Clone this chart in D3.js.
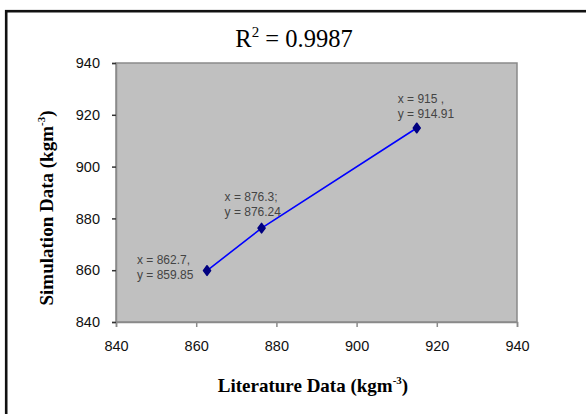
<!DOCTYPE html>
<html><head><meta charset="utf-8">
<script src="https://cdn.jsdelivr.net/npm/d3@7"></script>
<style>body{margin:0;background:#fff}svg{display:block}</style>
</head><body>
<svg id="c" width="586" height="414"></svg>
<script>
const literature = [862.7, 876.3, 915];
const simulation = [859.85, 876.24, 914.91];
const pointLabels = [["x = 862.7,", "y = 859.85"], ["x = 876.3;", "y = 876.24"], ["x = 915 ,", "y = 914.91"]];
const xTicks = [840, 860, 880, 900, 920, 940];
const yTicks = [840, 860, 880, 900, 920, 940];
const title = "0.9987";

// label placement offsets (layout only)
const labelOffsets = [[-70, -10], [-37, -30], [-19, -28]];

const svg = d3.select("#c");
const L = 116, R = 517, T = 63, B = 322;
const x = d3.scaleLinear().domain([840, 940]).range([L, R]);
const y = d3.scaleLinear().domain([840, 940]).range([B, T]);

// outer frame
svg.append("rect").attr("x", 6.2).attr("y", 11.2).attr("width", 620).attr("height", 520)
  .attr("fill", "none").attr("stroke", "#111").attr("stroke-width", 2.6);

// plot area
svg.append("rect").attr("x", L).attr("y", T).attr("width", R - L).attr("height", B - T)
  .attr("fill", "#c0c0c0").attr("stroke", "#8a8a8a").attr("stroke-width", 1.5);

// axes
const xa = svg.append("g").attr("transform", `translate(0,${B})`)
  .call(d3.axisBottom(x).tickValues(xTicks).tickSize(5).tickPadding(14).tickFormat(d3.format("d")));
const ya = svg.append("g").attr("transform", `translate(${L},0)`)
  .call(d3.axisLeft(y).tickValues(yTicks).tickSize(4).tickPadding(12).tickFormat(d3.format("d")));
[xa, ya].forEach(g => {
  g.select(".domain").attr("stroke", "#8a8a8a").attr("stroke-width", 1.5);
  g.selectAll(".tick line").attr("stroke", "#8a8a8a").attr("stroke-width", 1.5);
  g.selectAll(".tick text").attr("font-family", "Arial, 'Liberation Sans', sans-serif")
    .attr("font-size", 14.5).attr("fill", "#111");
});
ya.selectAll(".tick line").attr("stroke", "#333");

// line
const pts = literature.map((v, i) => [v, simulation[i]]);
svg.append("path").datum(pts)
  .attr("d", d3.line().x(d => x(d[0])).y(d => y(d[1])))
  .attr("fill", "none").attr("stroke", "#0000ff").attr("stroke-width", 1.6);

// markers
svg.selectAll(".pt").data(pts).enter().append("path")
  .attr("transform", d => `translate(${x(d[0])},${y(d[1])}) scale(1.25,1)`)
  .attr("d", d3.symbol().type(d3.symbolDiamond).size(28))
  .attr("fill", "#000080").attr("stroke", "#000080").attr("stroke-width", 1.2).attr("stroke-linejoin", "round");

// point labels
pts.forEach((d, i) => {
  const t = svg.append("text")
    .attr("x", x(d[0]) + labelOffsets[i][0]).attr("y", y(d[1]) + labelOffsets[i][1])
    .attr("font-family", "Arial, 'Liberation Sans', sans-serif").attr("font-size", 12)
    .attr("fill", "#444").attr("dominant-baseline", "middle");
  pointLabels[i].forEach((s, j) => {
    t.append("tspan").attr("x", x(d[0]) + labelOffsets[i][0]).attr("dy", j === 0 ? 0 : 15).text(s);
  });
});

// title
const tt = svg.append("text").attr("x", 294).attr("y", 47).attr("text-anchor", "middle")
  .attr("font-family", "'Liberation Serif', 'Times New Roman', serif").attr("font-size", 24.5).attr("fill", "#000");
tt.append("tspan").text("R");
tt.append("tspan").attr("font-size", 15).attr("dy", -10).text("2");
tt.append("tspan").attr("dy", 10).text(" = " + title);

// x axis title
const xt = svg.append("text").attr("x", 313).attr("y", 392).attr("text-anchor", "middle")
  .attr("font-family", "'Liberation Serif', 'Times New Roman', serif").attr("font-weight", "bold")
  .attr("font-size", 19).attr("fill", "#000");
xt.append("tspan").text("Literature Data (kgm");
xt.append("tspan").attr("font-size", 11).attr("dy", -8).text("-3");
xt.append("tspan").attr("dy", 8).text(")");

// y axis title
const yt = svg.append("text").attr("transform", "translate(53,208) rotate(-90)").attr("text-anchor", "middle")
  .attr("font-family", "'Liberation Serif', 'Times New Roman', serif").attr("font-weight", "bold")
  .attr("font-size", 19).attr("fill", "#000");
yt.append("tspan").text("Simulation Data (kgm");
yt.append("tspan").attr("font-size", 11).attr("dy", -8).text("-3");
yt.append("tspan").attr("dy", 8).text(")");
</script>
</body></html>
